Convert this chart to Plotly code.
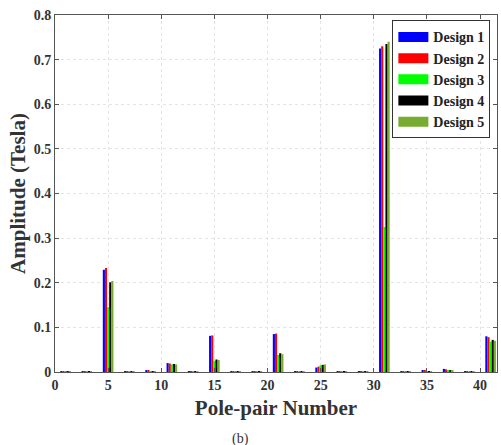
import plotly.graph_objects as go

harmonics = [1, 3, 5, 7, 9, 11, 13, 15, 17, 19, 21, 23, 25, 27, 29, 31, 33, 35, 37, 39, 41]
design1 = [0.002, 0.002, 0.229, 0.002, 0.003, 0.020, 0.002, 0.081, 0.002, 0.002, 0.085, 0.002, 0.010, 0.002, 0.002, 0.725, 0.002, 0.003, 0.007, 0.002, 0.080]
design2 = [0.002, 0.002, 0.233, 0.002, 0.003, 0.019, 0.002, 0.082, 0.002, 0.002, 0.086, 0.002, 0.012, 0.002, 0.002, 0.730, 0.002, 0.003, 0.006, 0.002, 0.078]
design3 = [0.002, 0.002, 0.145, 0.002, 0.002, 0.017, 0.002, 0.025, 0.002, 0.002, 0.038, 0.002, 0.015, 0.002, 0.002, 0.325, 0.002, 0.002, 0.003, 0.002, 0.068]
design4 = [0.001, 0.001, 0.201, 0.001, 0.002, 0.018, 0.001, 0.028, 0.001, 0.001, 0.042, 0.001, 0.016, 0.001, 0.001, 0.735, 0.001, 0.002, 0.004, 0.001, 0.072]
design5 = [0.002, 0.002, 0.204, 0.002, 0.002, 0.017, 0.002, 0.027, 0.002, 0.002, 0.040, 0.002, 0.017, 0.002, 0.002, 0.740, 0.002, 0.002, 0.004, 0.002, 0.070]

names = ["Design 1", "Design 2", "Design 3", "Design 4", "Design 5"]
series = [design1, design2, design3, design4, design5]
colors = ["#0000ff", "#ff0000", "#00ff00", "#000000", "#77ac30"]

fig = go.Figure()
for name, vals, col in zip(names, series, colors):
    fig.add_trace(go.Bar(x=harmonics, y=vals, name=name, marker=dict(color=col, line=dict(width=0)),
                         showlegend=False))
for name, col in zip(names, colors):
    fig.add_trace(go.Scatter(x=[None], y=[None], mode="lines", name=name,
                             line=dict(color=col, width=10)))

font_family = "Liberation Serif"
axis_common = dict(showline=True, linecolor="#555555", linewidth=1, mirror="ticks",
                   ticks="inside", ticklen=4, tickcolor="#555555",
                   showgrid=True, gridcolor="#e4e4e4", griddash="dot", gridwidth=1,
                   zeroline=False,
                   tickfont=dict(family=font_family, size=14, color="#333333", weight="bold"))

fig.update_layout(
    width=501, height=445,
    margin=dict(l=55, r=4, t=15, b=73),
    paper_bgcolor="white", plot_bgcolor="white",
    barmode="group", bargap=0.5, bargroupgap=0,
    xaxis=dict(range=[0, 41.6], tickvals=[0, 5, 10, 15, 20, 25, 30, 35, 40],
               title=dict(text="Pole-pair Number", standoff=8,
                          font=dict(family=font_family, size=21, color="#333333", weight="bold")),
               **axis_common),
    yaxis=dict(range=[0, 0.8], tickvals=[0, 0.1, 0.2, 0.3, 0.4, 0.5, 0.6, 0.7, 0.8],
               tickformat="~g",
               title=dict(text="Amplitude (Tesla)", standoff=2,
                          font=dict(family=font_family, size=21, color="#333333", weight="bold")),
               **axis_common),
    legend=dict(x=0.985, y=0.985, xanchor="right", yanchor="top",
                bgcolor="white", bordercolor="#333333", borderwidth=1,
                font=dict(family=font_family, size=14, color="#222222", weight="bold"),
                itemwidth=30, tracegroupgap=0),
    annotations=[dict(text="(b)", x=0.42, y=-0.16, xref="paper", yref="paper",
                      xanchor="center", yanchor="top", showarrow=False,
                      font=dict(family=font_family, size=14, color="#333333"))],
)

fig.write_html("out.html")
